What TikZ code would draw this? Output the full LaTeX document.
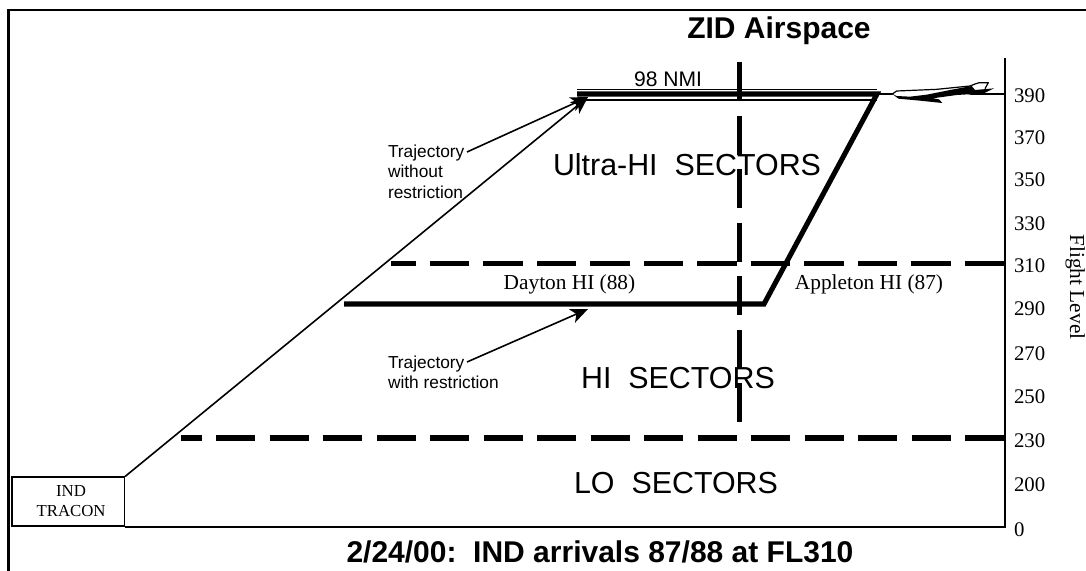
\documentclass[tikz,border=0pt]{standalone}
\usepackage{fontspec}
\setmainfont{Liberation Serif}
\newfontfamily\arialfont{Liberation Sans}
\usetikzlibrary{arrows.meta}
\tikzset{
  lbl/.style={inner sep=0pt,outer sep=0pt,text=black},
  serif/.style={lbl,font=\fontsize{16}{19}\selectfont},
  axisnum/.style={lbl,anchor=west,font=\fontsize{15.6}{19}\selectfont},
  sector/.style={lbl,font=\arialfont\fontsize{22.8}{26}\selectfont},
  headline/.style={lbl,font=\arialfont\bfseries\fontsize{22.5}{26}\selectfont},
  note/.style={lbl,anchor=north west,align=left,font=\arialfont\fontsize{13}{15.3}\selectfont},
  bnd/.style={line width=4.1pt,dash pattern=on 29.4pt off 10.725pt},
  traj/.style={line width=3.8pt,line join=miter},
  thinline/.style={line width=1.1pt},
  pointer/.style={line width=1.2pt,-{Stealth[length=13pt,width=11pt,inset=3.5pt]}},
}
\begin{document}
\begin{tikzpicture}[x=0.75pt,y=-0.75pt]
\useasboundingbox (0,0) rectangle (1086,571);
% frame
\coordinate (fa) at (8.5,571);
\coordinate (fb) at (8.5,10);
\coordinate (fc) at (1086,10);
\draw[line width=1.6pt] (fa) -- (fb) -- (fc);
% axis
\coordinate (axt) at (1005,58);
\coordinate (axb) at (1005,526.7);
\node[draw,line width=1.2pt,minimum width=84.4pt,minimum height=36.5pt,inner sep=0pt,anchor=south west,align=center,font=\fontsize{12.6}{15}\selectfont] (tracon) at (11,526.7) {\hspace*{4.5pt}IND\\\hspace*{4.5pt}TRACON};
\draw[line width=1.2pt] (axt) -- (axb) -- (tracon.south east);
% thin rails
\coordinate (ra) at (577,89.3); \coordinate (rb) at (877,89.3);
\coordinate (rc) at (577,100); \coordinate (rd) at (877,100);
\draw[thinline] (ra) -- (rb);
\draw[thinline] (rc) -- (rd);
% trajectories
\coordinate (ta) at (577,94); \coordinate (tb) at (877,94);
\coordinate (tc) at (764,304); \coordinate (td) at (344,304);
\coordinate (plane) at (1005,94);
\draw[thinline] (tb) -- (plane);
\draw[traj] (ta) -- (tb) -- (tc) -- (td);
% sector boundaries
\coordinate (ha) at (391,263.3); \coordinate (hb) at (1005,263.3);
\coordinate (la) at (180.7,438); \coordinate (lb) at (1005,438);
\coordinate (va) at (739.5,62); \coordinate (vb) at (739.5,422);
\draw[bnd,dash phase=10.9pt] (ha) -- (hb);
\draw[bnd,dash phase=13.5pt] (la) -- (lb);
\draw[bnd] (va) -- (vb);
% pointers
\coordinate (tip) at (588,97);
\coordinate (tipb) at (588,309);
\coordinate (na) at (467,152);
\coordinate (nb) at (467,362);
\draw[pointer] (tracon.north east) -- (tip);
\draw[pointer] (na) -- (tip);
\draw[pointer] (nb) -- (tipb);
% aeroplane
\begin{scope}[shift={(645pt,-52.5pt)},x=0.25pt,y=-0.25pt]
\fill[white] (97,72) -- (110,63) -- (230,58) -- (330,48) -- (345,42) -- (358,38) -- (385,38) -- (375,58) -- (400,58) -- (340,70) -- (245,98) -- (135,88) -- cycle;
\draw[line width=0.9pt,line join=round] (97,72) -- (110,63) -- (230,58) -- (330,48) -- (345,42) -- (358,38) -- (385,38) -- (375,56);
\fill[black] (97,72) -- (115,86) -- (180,92) -- (247,99) -- (237,88) -- (218,85) -- (290,75) -- (340,72) -- (372,70) -- (402,55) -- (345,60) -- (335,48) -- (270,60) -- (200,74) -- (150,80) -- (110,78) -- cycle;
\end{scope}
% titles
\node[headline] (title) at (779,31) {ZID Airspace};
\node[headline] (foot) at (600,552) {2/24/00:\ \ IND arrivals 87/88 at FL310};
\node[lbl,font=\arialfont\fontsize{15.8}{19}\selectfont] (nmi) at (668,79) {98 NMI};
\node[sector] (ultra) at (687,165) {Ultra-HI\ \ SECTORS};
\node[sector] (hi) at (678,378) {HI\ \ SECTORS};
\node[sector] (lo) at (676,483) {LO\ \ SECTORS};
\node[serif] (dayton) at (569.5,284) {Dayton HI (88)};
\node[serif] (appleton) at (869,284) {Appleton HI (87)};
\node[note] (n1) at (388,145) {Trajectory\\without\\restriction};
\node[note] (n2) at (388,356) {Trajectory\\with restriction};
% axis numbers
\node[axisnum] (f390) at (1014,96) {390};
\node[axisnum] (f370) at (1014,138) {370};
\node[axisnum] (f350) at (1014,180) {350};
\node[axisnum] (f330) at (1014,224) {330};
\node[axisnum] (f310) at (1014,266) {310};
\node[axisnum] (f290) at (1014,309) {290};
\node[axisnum] (f270) at (1014,354) {270};
\node[axisnum] (f250) at (1014,397) {250};
\node[axisnum] (f230) at (1014,441) {230};
\node[axisnum] (f200) at (1014,485) {200};
\node[axisnum] (f0) at (1014,530) {0};
\node[serif,rotate=-90] (fl) at (1075.3,287) {Flight Level};
\end{tikzpicture}
\end{document}
